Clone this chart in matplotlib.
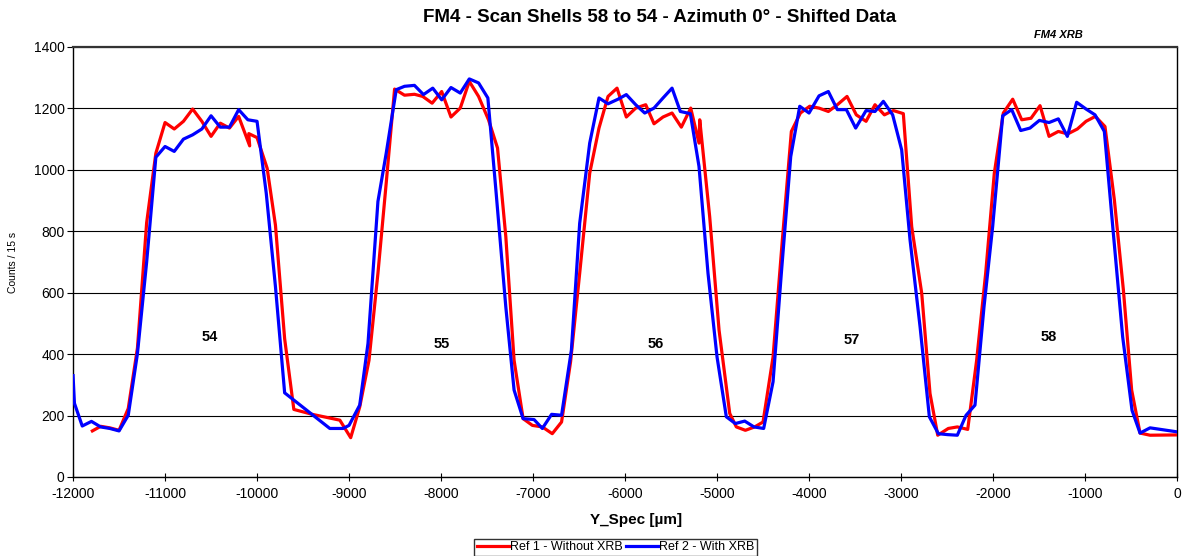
import matplotlib
matplotlib.use('Agg')
import matplotlib.pyplot as plt

# Ref 1 - without XRB
red_x = [-11790, -11700, -11600, -11500, -11400, -11300, -11200, -11100, -11000, -10900,
         -10800, -10700, -10600, -10500, -10400, -10300, -10200, -10080, -10090, -10000,
         -9890, -9800, -9700, -9600, -9400, -9100, -8982, -8884, -8783, -8686,
         -8596, -8505, -8397, -8289, -8199, -8097, -7993, -7892, -7791, -7693,
         -7592, -7484, -7386, -7296, -7206, -7108, -7007, -6899, -6791, -6690,
         -6592, -6493, -6384, -6283, -6185, -6087, -5986, -5884, -5775, -5685,
         -5587, -5489, -5388, -5286, -5196, -5188, -5080, -4978, -4862, -4790,
         -4692, -4591, -4500, -4391, -4290, -4192, -4094, -3993, -3891, -3790,
         -3692, -3587, -3486, -3380, -3283, -3181, -3083, -2975, -2884, -2775,
         -2685, -2601, -2486, -2388, -2275, -2178, -2080, -1986, -1888, -1786,
         -1688, -1587, -1489, -1391, -1290, -1188, -1083, -989, -888, -783,
         -681, -583, -493, -402, -293, 0]
red_y = [150, 165, 160, 152, 223, 420, 828, 1054, 1154, 1133,
         1158, 1198, 1158, 1109, 1152, 1136, 1174, 1078, 1118, 1105,
         1005, 820, 450, 220, 204, 185, 128, 228, 380, 663,
         957, 1263, 1243, 1246, 1239, 1217, 1255, 1172, 1201, 1288,
         1239, 1163, 1071, 783, 380, 190, 168, 163, 141, 179,
         375, 663, 989, 1136, 1239, 1266, 1172, 1201, 1212, 1150,
         1172, 1185, 1139, 1201, 1087, 1163, 848, 478, 207, 163,
         152, 163, 179, 391, 772, 1125, 1185, 1207, 1201, 1190,
         1212, 1239, 1179, 1158, 1212, 1179, 1193, 1183, 815, 598,
         272, 136, 158, 163, 155, 380, 663, 989, 1185, 1230,
         1163, 1168, 1209, 1109, 1125, 1117, 1133, 1158, 1174, 1141,
         902, 609, 283, 143, 136, 137]

# Ref 2 - with XRB
blue_x = [-12000, -11985, -11900, -11800, -11700, -11600, -11500, -11400, -11300, -11200,
          -11100, -11000, -10900, -10800, -10700, -10600, -10500, -10400, -10300, -10200,
          -10100, -10000, -9900, -9800, -9700, -9209, -9065, -9000, -8884, -8794,
          -8686, -8596, -8487, -8397, -8289, -8191, -8090, -7993, -7892, -7791,
          -7693, -7592, -7491, -7404, -7296, -7206, -7108, -6989, -6899, -6798,
          -6690, -6583, -6493, -6384, -6283, -6185, -6076, -5986, -5884, -5786,
          -5685, -5587, -5489, -5399, -5290, -5196, -5098, -5000, -4899, -4801,
          -4699, -4598, -4493, -4391, -4301, -4199, -4101, -4000, -3891, -3790,
          -3692, -3594, -3493, -3380, -3283, -3192, -3091, -2993, -2902, -2793,
          -2692, -2594, -2496, -2388, -2293, -2196, -2098, -2004, -1895, -1797,
          -1699, -1598, -1496, -1391, -1290, -1192, -1091, -989, -891, -790,
          -692, -591, -489, -402, -293, 0]
blue_y = [330, 240, 166, 181, 163, 158, 150, 201, 402, 700,
          1041, 1076, 1060, 1100, 1114, 1133, 1176, 1139, 1139, 1196,
          1163, 1158, 924, 620, 274, 158, 158, 168, 234, 435,
          897, 1054, 1261, 1272, 1275, 1245, 1266, 1228, 1268, 1250,
          1296, 1283, 1234, 935, 554, 283, 190, 187, 158, 204,
          201, 413, 826, 1087, 1234, 1215, 1230, 1245, 1212, 1185,
          1201, 1234, 1266, 1190, 1183, 1011, 663, 391, 196, 174,
          182, 163, 158, 310, 663, 1043, 1207, 1185, 1241, 1255,
          1196, 1196, 1136, 1193, 1190, 1223, 1179, 1065, 772, 489,
          196, 141, 138, 136, 201, 234, 554, 815, 1176, 1196,
          1128, 1136, 1161, 1154, 1166, 1109, 1220, 1198, 1179, 1125,
          793, 457, 217, 143, 160, 147]

# shell labels
shells = ['54', '55', '56', '57', '58']
shell_x = [-10517, -7990, -5668, -3540, -1393]
shell_y = [456, 433, 433, 446, 456]

plt.rcParams['font.family'] = ['Liberation Sans', 'DejaVu Sans']
plt.rcParams['axes.unicode_minus'] = False

fig = plt.figure(figsize=(11.84, 5.56), dpi=100)
ax = fig.add_axes([0.0617, 0.1421, 0.9324, 0.7734])

ax.plot(red_x, red_y, color='#ff0000', lw=2.3, label='Ref 1 - Without XRB', zorder=3)
ax.plot(blue_x, blue_y, color='#0000ff', lw=2.3, label='Ref 2 - With XRB', zorder=4)

for s, x, y in zip(shells, shell_x, shell_y):
  ax.text(x, y, s, fontsize=10.5, fontweight='bold', ha='center', va='center')

ax.set_xlim(-12000, 0)
ax.set_ylim(0, 1400)
ax.set_xticks(range(-12000, 1, 1000))
ax.set_yticks(range(0, 1401, 200))
ax.yaxis.grid(True, color='black', lw=0.8)
ax.set_axisbelow(True)
ax.tick_params(axis='x', direction='inout', length=6, labelsize=10, pad=4)
ax.tick_params(axis='y', direction='out', length=4, labelsize=10, pad=2)
for sp in ax.spines.values():
  sp.set_color('black')
  sp.set_linewidth(1)
ax.spines['top'].set_linewidth(1.6)
ax.spines['top'].set_color('#333333')

ax.set_xlabel('Y_Spec [µm]', fontsize=11, fontweight='bold')
ax.xaxis.set_label_coords(0.51, -0.083)
ax.set_ylabel('Counts / 15 s', fontsize=7.5, family=['Liberation Sans Narrow', 'Liberation Sans'])
ax.yaxis.set_label_coords(-0.0498, 0.5)

fig.text(0.557, 0.968, 'FM4 - Scan Shells 58 to 54 - Azimuth 0° - Shifted Data',
         fontsize=13.5, fontweight='bold', ha='center', va='center')
fig.text(0.8935, 0.937, 'FM4 XRB', fontsize=8, fontweight='bold', style='italic',
         ha='center', va='center')

leg = ax.legend(loc='upper center', bbox_to_anchor=(0.52, 0.031), bbox_transform=fig.transFigure,
                ncol=2, fontsize=9, frameon=True, fancybox=False, edgecolor='black',
                borderpad=0.2, handlelength=2.6, handletextpad=0.1, columnspacing=0.2,
                borderaxespad=0)
leg.get_frame().set_linewidth(1)

fig.savefig('out.png', dpi=100)
